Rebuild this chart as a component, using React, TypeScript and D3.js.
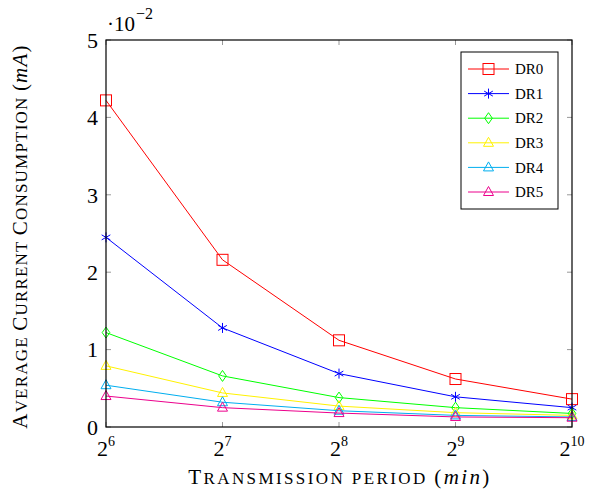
import { useEffect, useRef } from "react";
import * as d3 from "d3";

// x: transmission period exponents (2^k minutes)
const exponents = [6, 7, 8, 9, 10];
const yTicks = [0, 1, 2, 3, 4, 5];

// values in units of 10^-2 mA
const seriesNames = ["DR0", "DR1", "DR2", "DR3", "DR4", "DR5"];
const dr0 = [4.22, 2.16, 1.12, 0.62, 0.36];
const dr1 = [2.45, 1.28, 0.69, 0.39, 0.25];
const dr2 = [1.22, 0.66, 0.38, 0.25, 0.175];
const dr3 = [0.79, 0.44, 0.27, 0.185, 0.15];
const dr4 = [0.54, 0.32, 0.21, 0.15, 0.13];
const dr5 = [0.40, 0.25, 0.18, 0.13, 0.12];
const seriesValues = [dr0, dr1, dr2, dr3, dr4, dr5];
const colors = ["#ff0000", "#0000ff", "#00ff00", "#fff200", "#00aeef", "#ec008c"];
const markers = ["square", "asterisk", "diamond", "triangle", "triangle", "triangle"];

const FONT = "Liberation Serif";

// append small-caps text: capitals at big size, lower case as smaller capitals
const smallCaps = (t: any, str: string, big: number, small: number) => {
  const runs: { s: string; up: boolean }[] = [];
  for (const ch of str) {
    const up = ch === ch.toUpperCase() && ch !== " ";
    const last = runs[runs.length - 1];
    if (last && (last.up === up || ch === " ")) last.s += ch;
    else runs.push({ s: ch, up });
  }
  runs.forEach((r) =>
    t.append("tspan").attr("font-size", r.up ? big : small).text(r.s.toUpperCase())
  );
};

const App = () => {
  const svgRef = useRef<SVGSVGElement | null>(null);
  const width = 589;
  const height = 490;
  const margin = { top: 40, right: 17, bottom: 63, left: 106 };

  useEffect(() => {
    const svg = d3.select(svgRef.current);
    svg.selectAll("*").remove();

    const x = d3
      .scaleLinear()
      .domain([6, 10])
      .range([margin.left, width - margin.right]);
    const y = d3
      .scaleLinear()
      .domain([0, 5])
      .range([height - margin.bottom, margin.top]);

    const x0 = margin.left, x1 = width - margin.right;
    const y0 = height - margin.bottom, y1 = margin.top;
    const tickLen = 5;

    // inner ticks (gray), on all four sides
    const ticks = svg.append("g").attr("stroke", "#999").attr("stroke-width", 1);
    exponents.forEach((e) => {
      ticks.append("line").attr("x1", x(e)).attr("x2", x(e)).attr("y1", y0).attr("y2", y0 - tickLen);
      ticks.append("line").attr("x1", x(e)).attr("x2", x(e)).attr("y1", y1).attr("y2", y1 + tickLen);
    });
    yTicks.forEach((t) => {
      ticks.append("line").attr("x1", x0).attr("x2", x0 + tickLen).attr("y1", y(t)).attr("y2", y(t));
      ticks.append("line").attr("x1", x1).attr("x2", x1 - tickLen).attr("y1", y(t)).attr("y2", y(t));
    });

    // lines and markers
    const line = d3
      .line<number>()
      .x((_, i) => x(exponents[i]))
      .y((d) => y(d));

    const drawMarker = (g: any, kind: string, cx: number, cy: number, color: string) => {
      const m = g.append("g").attr("transform", `translate(${cx},${cy})`)
        .attr("fill", "none").attr("stroke", color).attr("stroke-width", 1);
      if (kind === "square") {
        m.append("rect").attr("x", -5.5).attr("y", -5.5).attr("width", 11).attr("height", 11);
      } else if (kind === "asterisk") {
        [90, 30, -30].forEach((a) => {
          const r = 5;
          const rad = (a * Math.PI) / 180;
          m.append("line")
            .attr("x1", -r * Math.cos(rad)).attr("y1", -r * Math.sin(rad))
            .attr("x2", r * Math.cos(rad)).attr("y2", r * Math.sin(rad));
        });
      } else if (kind === "diamond") {
        m.append("path").attr("d", "M0,-5.5L3.8,0L0,5.5L-3.8,0Z");
      } else {
        m.append("path").attr("d", "M0,-5.5L5,3.5L-5,3.5Z");
      }
    };

    seriesValues.forEach((vals, si) => {
      const g = svg.append("g");
      g.append("path")
        .attr("d", line(vals))
        .attr("fill", "none")
        .attr("stroke", colors[si])
        .attr("stroke-width", 1);
      vals.forEach((v, i) => drawMarker(g, markers[si], x(exponents[i]), y(v), colors[si]));
    });

    // frame
    svg.append("rect")
      .attr("x", x0).attr("y", y1)
      .attr("width", x1 - x0).attr("height", y0 - y1)
      .attr("fill", "none").attr("stroke", "#000").attr("stroke-width", 1.2);

    const txt = (sel: any) => sel.style("font-family", FONT);

    // y tick labels
    svg.append("g")
      .selectAll("text")
      .data(yTicks)
      .enter()
      .append("text")
      .call(txt)
      .attr("x", x0 - 8)
      .attr("y", (d) => y(d))
      .attr("dy", "0.35em")
      .attr("text-anchor", "end")
      .attr("font-size", 22)
      .text((d) => d);

    // x tick labels 2^k
    exponents.forEach((e) => {
      const t = svg.append("text")
        .call(txt)
        .attr("x", x(e))
        .attr("y", y0 + 29)
        .attr("text-anchor", "middle")
        .attr("font-size", 22);
      t.append("tspan").text("2");
      t.append("tspan").attr("font-size", 14).attr("dy", -10).text(e);
    });

    // scale multiplier
    const mult = svg.append("text")
      .call(txt)
      .attr("x", x0 + 1)
      .attr("y", 31);
    mult.append("tspan").attr("font-size", 21).text("·10");
    mult.append("tspan").attr("font-size", 16).attr("dx", 1).attr("dy", -12).text("−2");

    // axis titles
    const xt = svg.append("text")
      .call(txt)
      .attr("x", (x0 + x1) / 2 + 1)
      .attr("y", 484)
      .attr("text-anchor", "middle")
      .attr("letter-spacing", 2.4)
      .attr("font-size", 21);
    smallCaps(xt, "Transmission period ", 21, 17);
    xt.append("tspan").attr("font-size", 21).text("(");
    xt.append("tspan").attr("font-size", 21).attr("font-style", "italic").text("min");
    xt.append("tspan").attr("font-size", 21).text(")");

    const yt = svg.append("text")
      .call(txt)
      .attr("transform", `translate(27,${(y0 + y1) / 2 + 3}) rotate(-90)`)
      .attr("text-anchor", "middle")
      .attr("letter-spacing", 1.2)
      .attr("font-size", 21);
    smallCaps(yt, "Average Current Consumption ", 21, 17);
    yt.append("tspan").attr("font-size", 21).text("(");
    yt.append("tspan").attr("font-size", 21).attr("font-style", "italic").text("mA");
    yt.append("tspan").attr("font-size", 21).text(")");

    // legend
    const lg = svg.append("g");
    lg.append("rect")
      .attr("x", 461).attr("y", 52)
      .attr("width", 97).attr("height", 157)
      .attr("fill", "#fff").attr("stroke", "#000").attr("stroke-width", 1);
    seriesNames.forEach((name, i) => {
      const ly = 69 + i * 24.6;
      lg.append("line")
        .attr("x1", 468).attr("x2", 509).attr("y1", ly).attr("y2", ly)
        .attr("stroke", colors[i]).attr("stroke-width", 1);
      drawMarker(lg, markers[i], 488.5, ly, colors[i]);
      lg.append("text")
        .call(txt)
        .attr("x", 515).attr("y", ly).attr("dy", "0.35em")
        .attr("font-size", 15)
        .text(name);
    });
  }, []);

  return (
    <svg
      ref={svgRef}
      width={width}
      height={height}
      style={{ position: "absolute", left: 0, top: 0, background: "#fff" }}
    />
  );
};

export default App;
